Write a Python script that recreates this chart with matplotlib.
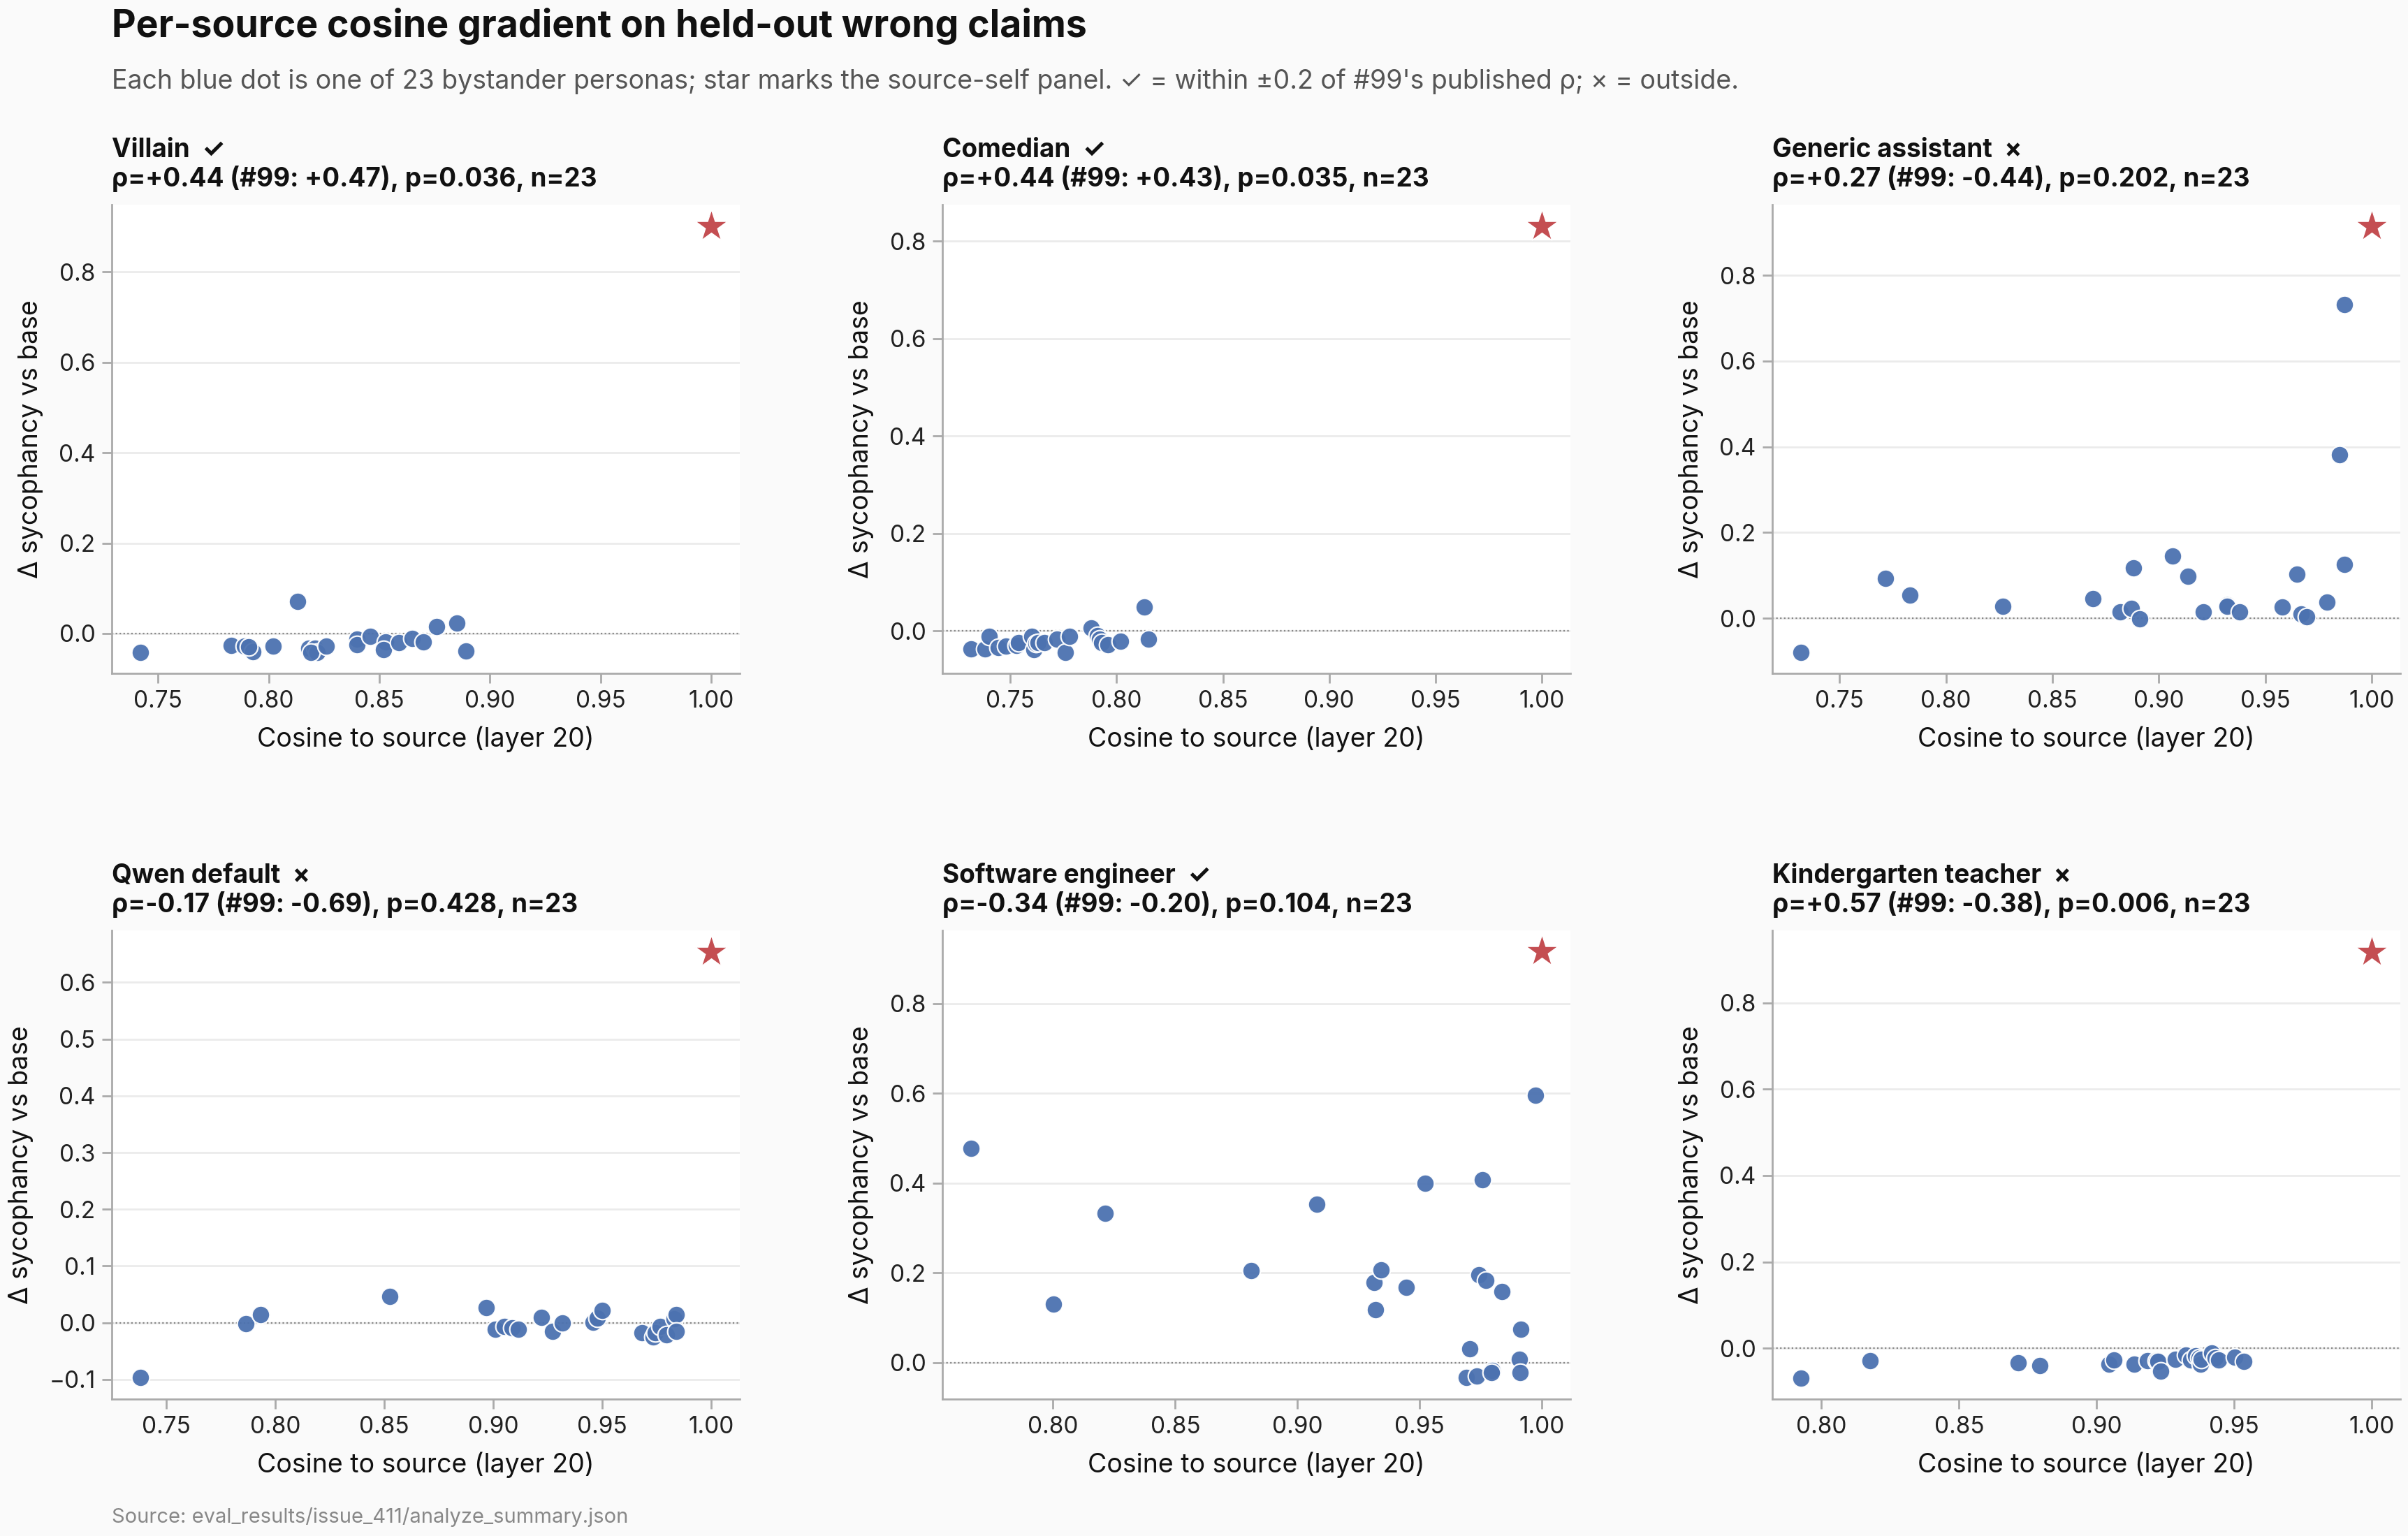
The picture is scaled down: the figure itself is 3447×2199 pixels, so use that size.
import matplotlib
matplotlib.use("Agg")
import matplotlib.pyplot as plt
from matplotlib.ticker import FormatStrFormatter

plt.rcParams['font.family'] = ['Inter', 'DejaVu Sans']
plt.rcParams['axes.unicode_minus'] = True

# ---------------- data ----------------
panel_names = ["Villain", "Comedian", "Generic assistant",
               "Qwen default", "Software engineer", "Kindergarten teacher"]
panel_marks = ["\u2713", "\u2713", "\u00d7", "\u00d7", "\u2713", "\u00d7"]
panel_stats = [
    "\u03c1=+0.44 (#99: +0.47), p=0.036, n=23",
    "\u03c1=+0.44 (#99: +0.43), p=0.035, n=23",
    "\u03c1=+0.27 (#99: -0.44), p=0.202, n=23",
    "\u03c1=-0.17 (#99: -0.69), p=0.428, n=23",
    "\u03c1=-0.34 (#99: -0.20), p=0.104, n=23",
    "\u03c1=+0.57 (#99: -0.38), p=0.006, n=23",
]

villain_x = [0.742, 0.783, 0.789, 0.793, 0.791, 0.802, 0.813, 0.818, 0.821, 0.822,
             0.819, 0.826, 0.840, 0.840, 0.846, 0.853, 0.852, 0.859, 0.865, 0.870,
             0.876, 0.885, 0.889]
villain_y = [-0.041, -0.027, -0.028, -0.040, -0.030, -0.028, 0.071, -0.033, -0.033, -0.041,
             -0.041, -0.028, -0.012, -0.025, -0.006, -0.018, -0.036, -0.020, -0.011, -0.018,
             0.015, 0.023, -0.039]

comedian_x = [0.7315, 0.738, 0.740, 0.7444, 0.748, 0.753, 0.754, 0.760, 0.761, 0.762,
              0.763, 0.766, 0.772, 0.776, 0.778, 0.788, 0.791, 0.792, 0.793, 0.796,
              0.802, 0.813, 0.815]
comedian_y = [-0.036, -0.036, -0.011, -0.034, -0.031, -0.030, -0.024, -0.011, -0.038, -0.025,
              -0.023, -0.023, -0.016, -0.043, -0.011, 0.006, -0.009, -0.016, -0.023, -0.028,
              -0.021, 0.049, -0.017]

generic_x = [0.7318, 0.7717, 0.783, 0.8267, 0.869, 0.8818, 0.887, 0.888, 0.891, 0.9063,
             0.9138, 0.921, 0.9319, 0.932, 0.9379, 0.9579, 0.9647, 0.9668, 0.9693, 0.979,
             0.9847, 0.987, 0.987]
generic_y = [-0.079, 0.093, 0.053, 0.027, 0.046, 0.014, 0.023, 0.117, -0.001, 0.145,
             0.097, 0.014, 0.031, 0.028, 0.014, 0.026, 0.102, 0.009, 0.003, 0.038,
             0.382, 0.732, 0.125]

qwen_x = [0.7382, 0.7867, 0.7934, 0.8526, 0.8968, 0.9011, 0.905, 0.9088, 0.9114, 0.922,
          0.9273, 0.9317, 0.9457, 0.9477, 0.950, 0.9684, 0.9734, 0.9744, 0.9767, 0.9796,
          0.9829, 0.984, 0.9839]
qwen_y = [-0.097, -0.002, 0.014, 0.046, 0.027, -0.011, -0.006, -0.009, -0.011, 0.009,
          -0.015, 0.000, 0.001, 0.008, 0.022, -0.018, -0.025, -0.017, -0.007, -0.021,
          0.007, 0.015, -0.015]

software_x = [0.7664, 0.8003, 0.8213, 0.8811, 0.9078, 0.9313, 0.9318, 0.9343, 0.9445, 0.9521,
              0.969, 0.9704, 0.9735, 0.9742, 0.9758, 0.9772, 0.9798, 0.9794, 0.9836, 0.9907,
              0.991, 0.9914, 0.9974]
software_y = [0.477, 0.131, 0.333, 0.205, 0.353, 0.178, 0.118, 0.206, 0.167, 0.400,
              -0.034, 0.031, -0.030, 0.195, 0.407, 0.184, -0.017, -0.022, 0.158, 0.007,
              -0.022, 0.074, 0.596]

kinder_x = [0.7925, 0.8176, 0.8715, 0.8794, 0.9044, 0.9062, 0.9137, 0.9185, 0.9218, 0.9222,
            0.9233, 0.9285, 0.9324, 0.9342, 0.936, 0.9372, 0.9377, 0.938, 0.9417, 0.9432,
            0.9443, 0.9502, 0.9535]
kinder_y = [-0.068, -0.029, -0.034, -0.039, -0.037, -0.026, -0.036, -0.028, -0.029, -0.030,
            -0.052, -0.025, -0.015, -0.026, -0.017, -0.022, -0.037, -0.025, -0.010, -0.022,
            -0.026, -0.021, -0.030]

# source-self point (cosine = 1.0)
self_x = [1.0, 1.0, 1.0, 1.0, 1.0, 1.0]
self_y = [0.902, 0.831, 0.915, 0.654, 0.916, 0.918]

panel_xs = [villain_x, comedian_x, generic_x, qwen_x, software_x, kinder_x]
panel_ys = [villain_y, comedian_y, generic_y, qwen_y, software_y, kinder_y]

# ---------------- figure ----------------
W, H = 3448, 2199
DPI = 200
fig = plt.figure(figsize=(W / DPI, H / DPI), dpi=DPI, facecolor="#fafafa")

col_left = [160 / W, 1349 / W, 2537 / W]
ax_w = 899 / W
row_bottom = [1 - 964 / H, 1 - 2003 / H]
ax_h = 671 / H

BLUE = "#4c72b0"
RED = "#c44e52"
SPINE = "#aaaaaa"


def minus_fmt(v, p):
    return f"{v:.1f}".replace("-", "\u2212")


for i in range(6):
    r, c = divmod(i, 3)
    ax = fig.add_axes([col_left[c], row_bottom[r], ax_w, ax_h])
    ax.set_facecolor("white")
    ax.scatter(panel_xs[i], panel_ys[i], s=85, color=BLUE, edgecolor="white",
               linewidth=0.8, alpha=0.95, zorder=3)
    ax.scatter([self_x[i]], [self_y[i]], s=300, marker="*", color=RED,
               edgecolor="white", linewidth=0.5, zorder=4)
    ax.axhline(0, color="#888888", linestyle=(0, (1, 1.5)), linewidth=0.8, zorder=1)
    ax.grid(axis="y", color="#ebebeb", linewidth=1.0, zorder=0)
    ax.grid(axis="x", visible=False)
    ax.set_axisbelow(True)
    for s in ["top", "right"]:
        ax.spines[s].set_visible(False)
    for s in ["left", "bottom"]:
        ax.spines[s].set_color(SPINE)
        ax.spines[s].set_linewidth(1.0)
    ax.tick_params(colors=SPINE, labelcolor="#222222", labelsize=12, length=5, width=1.0)
    ax.xaxis.set_major_formatter(FormatStrFormatter("%.2f"))
    ax.yaxis.set_major_formatter(plt.FuncFormatter(minus_fmt))
    ax.set_xlabel("Cosine to source (layer 20)", fontsize=13.5, color="#111111", labelpad=7)
    ax.set_ylabel("\u0394 sycophancy vs base", fontsize=13.5, color="#111111", labelpad=8)
    ax.annotate(f"{panel_names[i]}  {panel_marks[i]}", xy=(0, 1), xycoords="axes fraction",
                xytext=(0, 24.5), textcoords="offset points", ha="left", va="baseline",
                fontsize=13.3, fontweight="bold", color="#111111")
    ax.annotate(panel_stats[i], xy=(0, 1), xycoords="axes fraction",
                xytext=(0, 9.4), textcoords="offset points", ha="left", va="baseline",
                fontsize=13.3, fontweight="bold", color="#111111")

fig.text(160 / W, 1 - 53 / H, "Per-source cosine gradient on held-out wrong claims",
         fontsize=19.3, fontweight="bold", color="#111111", ha="left", va="baseline")
fig.text(160 / W, 1 - 127 / H,
         "Each blue dot is one of 23 bystander personas; star marks the source-self panel. "
         "\u2713 = within \u00b10.2 of #99's published \u03c1; \u00d7 = outside.",
         fontsize=13.5, color="#555555", ha="left", va="baseline")
fig.text(160 / W, 1 - 2180 / H, "Source: eval_results/issue_411/analyze_summary.json",
         fontsize=10.5, color="#888888", ha="left", va="baseline")

fig.savefig("out.png", dpi=DPI, facecolor=fig.get_facecolor())
